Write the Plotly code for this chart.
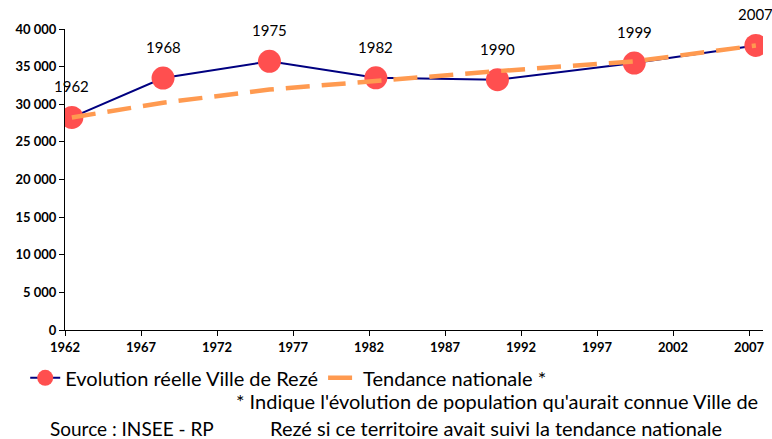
import plotly.graph_objects as go

# ---------------------------------------------------------------------------
# Data
# ---------------------------------------------------------------------------
years = [1962, 1968, 1975, 1982, 1990, 1999, 2007]
pop_reze = [28250, 33480, 35700, 33520, 33260, 35480, 37820]
pop_tendance = [28250, 30200, 31950, 33150, 34400, 35700, 37800]
x_ticks = [1962, 1967, 1972, 1977, 1982, 1987, 1992, 1997, 2002, 2007]
y_ticks = [0, 5000, 10000, 15000, 20000, 25000, 30000, 35000, 40000]

# census points sit slightly after the start of each year on the axis
x_pts = [y + 0.45 for y in years]

FONT = "Lato"

fig = go.Figure()

fig.add_trace(go.Scatter(
    x=x_pts, y=pop_reze, mode="lines+markers",
    line=dict(color="#000080", width=2),
    marker=dict(color="#FF4F4F", size=23),
    name="Evolution réelle Ville de Rezé",
))

fig.add_trace(go.Scatter(
    x=x_pts, y=pop_tendance, mode="lines",
    line=dict(color="#FF9A50", width=4.5, dash="24px,12px"),
    name="Tendance nationale *",
))

# year labels above each point
for xv, yv, lab in zip(x_pts, pop_reze, years):
    fig.add_annotation(
        x=xv, y=yv, text=str(lab), showarrow=False,
        yshift=31, font=dict(family=FONT, size=15, color="black"),
    )

# footnotes
fig.add_annotation(
    xref="paper", yref="paper", x=0.996, y=-0.236,
    xanchor="right", yanchor="middle",
    text="* Indique l'évolution de population qu'aurait connue Ville de",
    showarrow=False, font=dict(family=FONT, size=20, color="black"),
)
fig.add_annotation(
    xref="paper", yref="paper", x=-0.024, y=-0.326,
    xanchor="left", yanchor="middle",
    text="Source : INSEE - RP",
    showarrow=False, font=dict(family=FONT, size=19, color="black"),
)
fig.add_annotation(
    xref="paper", yref="paper", x=0.291, y=-0.326,
    xanchor="left", yanchor="middle",
    text="Rezé si ce territoire avait suivi la tendance nationale",
    showarrow=False, font=dict(family=FONT, size=20, color="black"),
)

fig.update_layout(
    width=772, height=439,
    paper_bgcolor="white", plot_bgcolor="white",
    margin=dict(l=65, r=9, t=29, b=109, autoexpand=False),
    showlegend=True,
    separators=", ",
    legend=dict(
        orientation="h", x=-0.057, y=-0.159, xanchor="left", yanchor="middle",
        font=dict(family=FONT, size=20, color="black"),
        tracegroupgap=0, itemwidth=30,
    ),
    xaxis=dict(
        range=[1962, 2007.92], tickvals=x_ticks, automargin=False,
        showgrid=False, zeroline=False,
        showline=True, linecolor="black", linewidth=1,
        ticks="outside", ticklen=5, tickcolor="black",
        tickfont=dict(family=FONT, size=13, color="black", weight="bold"),
    ),
    yaxis=dict(
        range=[0, 40000], tickvals=y_ticks, tickformat=",d", automargin=False,
        showgrid=False, zeroline=False,
        showline=True, linecolor="black", linewidth=1,
        ticks="outside", ticklen=5, tickcolor="black",
        tickfont=dict(family=FONT, size=13, color="black", weight="bold"),
    ),
)

fig.write_html(
    "out.html",
    config={"displayModeBar": False},
    post_script="document.body.style.margin='0';",
)
